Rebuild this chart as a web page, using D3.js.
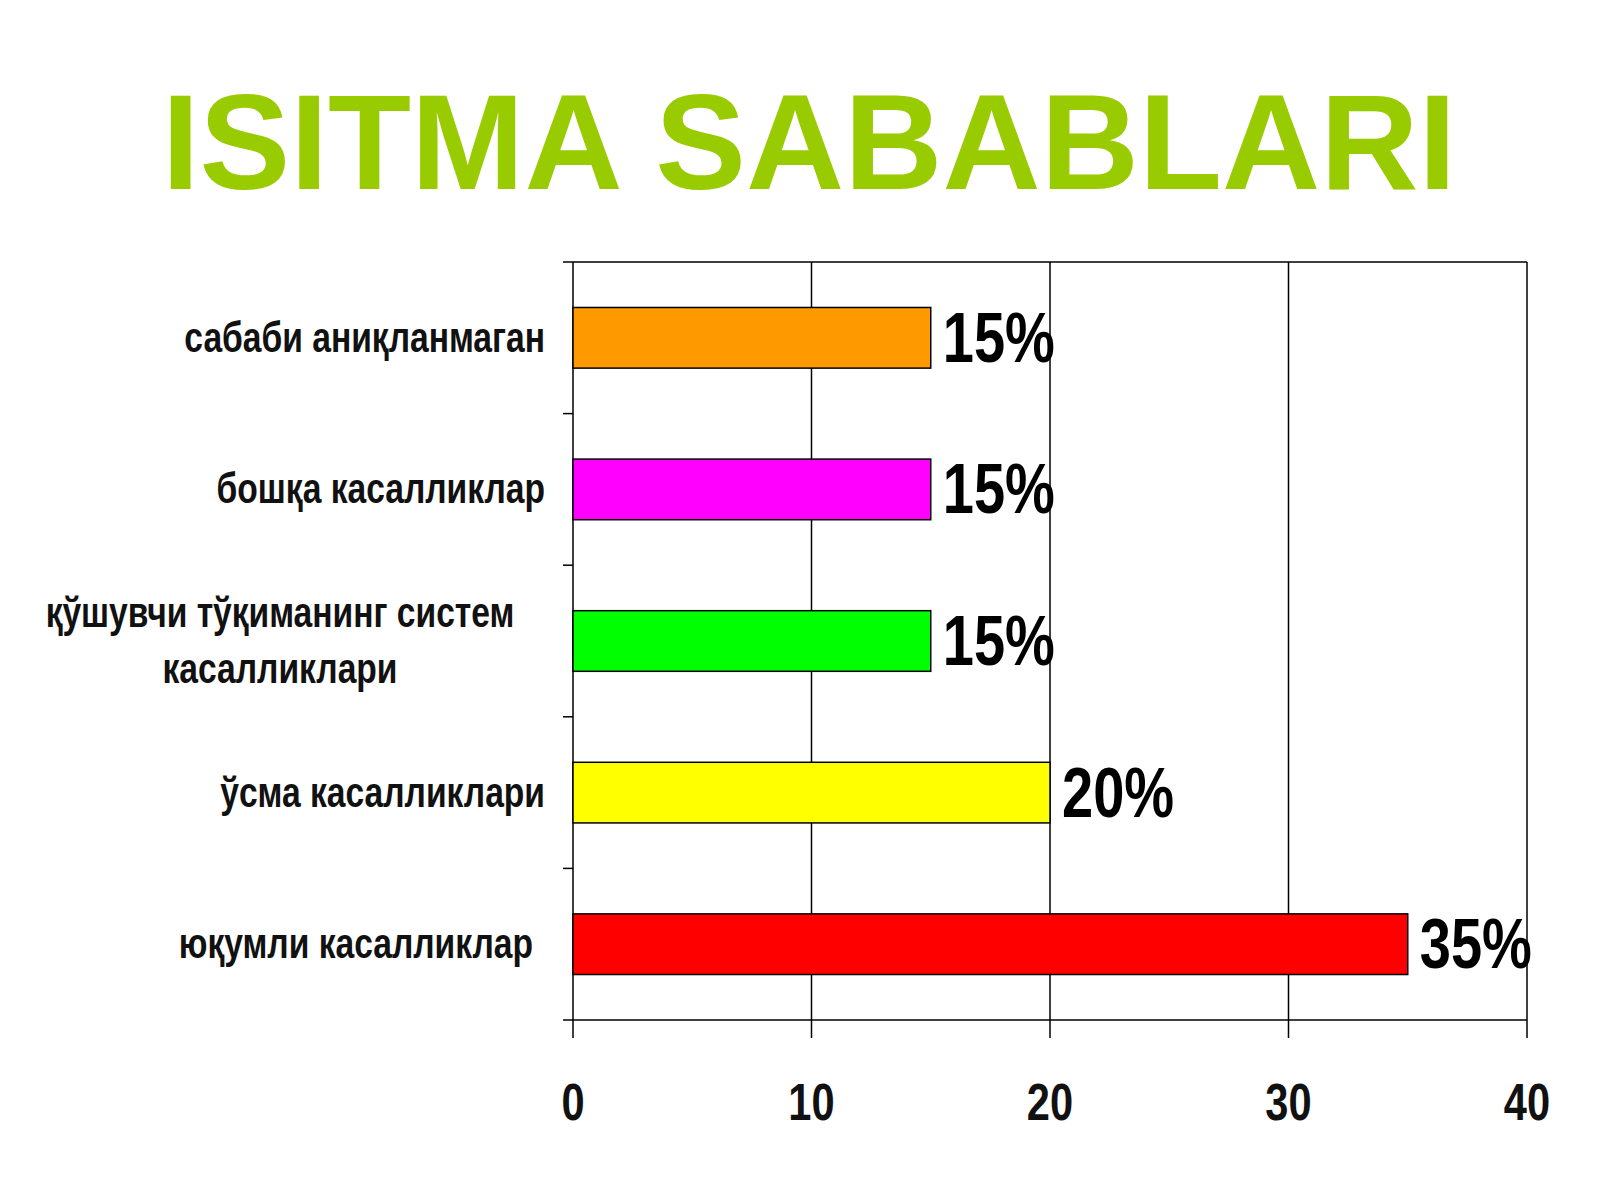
<!DOCTYPE html>
<html><head><meta charset="utf-8">
<script src="https://cdn.jsdelivr.net/npm/d3@7"></script>
<style>body{margin:0;background:#fff}</style>
</head><body>
<script>
var categories = ["сабаби аниқланмаган", "бошқа касалликлар", "қўшувчи тўқиманинг систем|касалликлари", "ўсма касалликлари", "юқумли касалликлар"];
var values = [15, 15, 15, 20, 35];
var colors = ["#ff9900", "#ff00ff", "#00ff00", "#ffff00", "#ff0000"];
var ticks = [0, 10, 20, 30, 40];

var width = 1600, height = 1200;
var svg = d3.select("body").append("svg").attr("width", width).attr("height", height);
var narrowFont = "Liberation Sans Narrow, Arial Narrow, Liberation Sans";
var squeeze = 0.8;

svg.append("text").attr("x", 809).attr("y", 189).attr("text-anchor", "middle")
  .attr("font-family", "Liberation Sans, Arial").attr("font-weight", "bold")
  .attr("font-size", 136).attr("fill", "#99cc00").text("ISITMA SABABLARI");

var pLeft = 573, pRight = 1527, pTop = 262, pBottom = 1020;
var x = d3.scaleLinear().domain([0, 40]).range([pLeft, pRight]);
var y = d3.scaleBand().domain(categories).range([pTop, pBottom]).paddingInner(0.6).paddingOuter(0.3);
var band = d3.scaleBand().domain(categories).range([pTop, pBottom]);

function narrowText(g, px, py) {
  return g.append("text").attr("transform", "translate(" + px + "," + py + ") scale(" + squeeze + ",1)")
    .attr("font-family", narrowFont).attr("font-weight", "bold").attr("fill", "#111");
}

svg.append("g").selectAll("line").data(ticks.slice(1)).enter().append("line")
  .attr("x1", d => x(d)).attr("x2", d => x(d)).attr("y1", pTop).attr("y2", pBottom + 18)
  .attr("stroke", "#000").attr("stroke-width", 1.5);
svg.append("line").attr("x1", pLeft).attr("x2", pRight).attr("y1", pTop).attr("y2", pTop).attr("stroke", "#000").attr("stroke-width", 1.5);
svg.append("line").attr("x1", pLeft - 10).attr("x2", pRight).attr("y1", pBottom).attr("y2", pBottom).attr("stroke", "#000").attr("stroke-width", 1.5);
svg.append("line").attr("x1", pLeft).attr("x2", pLeft).attr("y1", pTop).attr("y2", pBottom + 18).attr("stroke", "#000").attr("stroke-width", 1.5);
svg.append("g").selectAll("line").data(categories).enter().append("line")
  .attr("x1", pLeft - 10).attr("x2", pLeft).attr("y1", d => band(d)).attr("y2", d => band(d))
  .attr("stroke", "#000").attr("stroke-width", 1.5);

svg.append("g").selectAll("rect").data(values).enter().append("rect")
  .attr("x", pLeft).attr("y", (d, i) => y(categories[i]))
  .attr("width", d => x(d) - pLeft).attr("height", y.bandwidth())
  .attr("fill", (d, i) => colors[i]).attr("stroke", "#000").attr("stroke-width", 1.5);

var vg = svg.append("g");
values.forEach(function (d, i) {
  narrowText(vg, x(d) + 12, y(categories[i]) + y.bandwidth() / 2 + 24)
    .attr("font-size", 70).attr("fill", "#000").text(d + "%");
});

var lg = svg.append("g");
categories.forEach(function (d, i) {
  var parts = d.split("|");
  var cy = y(d) + y.bandwidth() / 2;
  if (parts.length > 1) {
    narrowText(lg, 280, cy - 14).attr("font-size", 42).attr("text-anchor", "middle").text(parts[0]);
    narrowText(lg, 280, cy + 42).attr("font-size", 42).attr("text-anchor", "middle").text(parts[1]);
  } else {
    narrowText(lg, i === 4 ? 533 : 545, cy + 14).attr("font-size", 42).attr("text-anchor", "end").text(d);
  }
});

var tg = svg.append("g");
ticks.forEach(function (d) {
  narrowText(tg, x(d), 1120).attr("font-size", 52).attr("text-anchor", "middle").text(d);
});
</script>
</body></html>
